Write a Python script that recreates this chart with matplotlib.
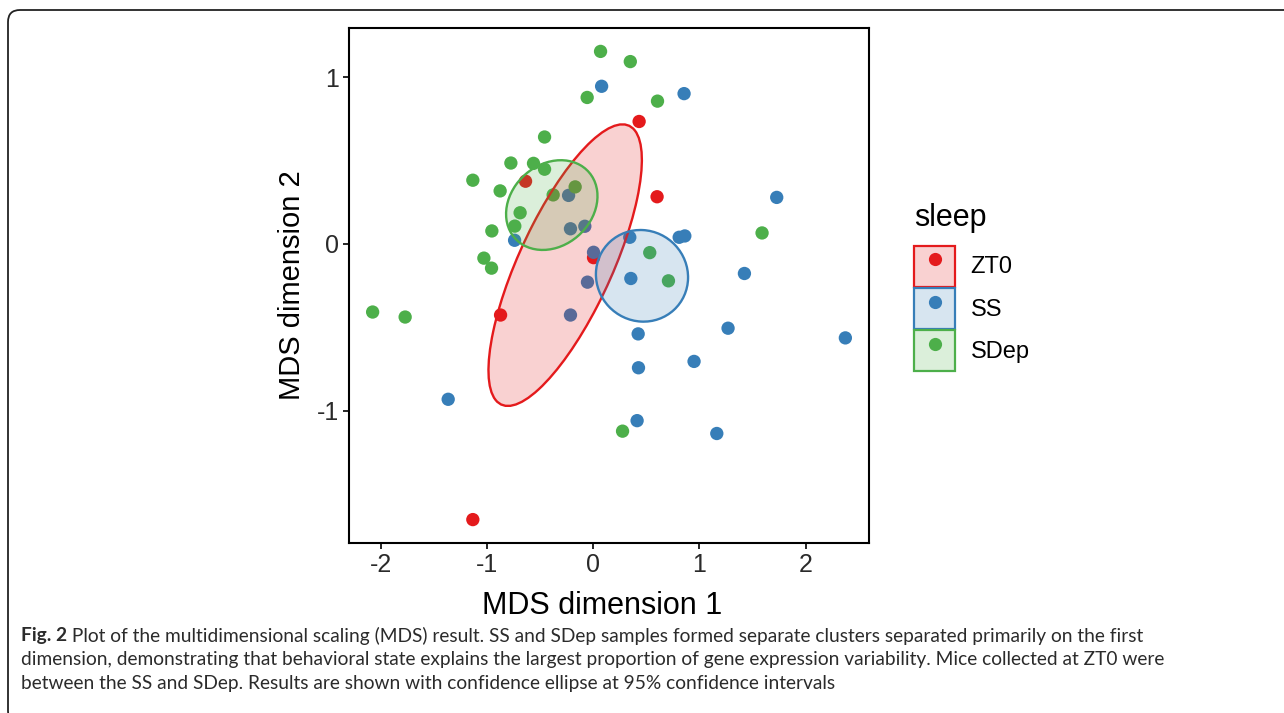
import numpy as np
import matplotlib
matplotlib.use("Agg")
import matplotlib.pyplot as plt
from matplotlib.patches import Ellipse, Patch, FancyBboxPatch
from matplotlib.lines import Line2D
from matplotlib.colors import to_rgba
from matplotlib.transforms import IdentityTransform

# ---------------- data ----------------
groups = ["ZT0", "SS", "SDep"]
colors = ["#E41A1C", "#377EB8", "#4DAF4A"]

zt0_x = [0.433, -0.636, 0.602, 0.004, -0.871, -1.132]
zt0_y = [0.734, 0.376, 0.283, -0.082, -0.426, -1.652]

ss_x = [0.080, 0.856, -0.231, 1.728, -0.213, -0.078, -0.739, 0.345, 0.810, 0.863,
        0.004, 1.424, 0.355, -0.053, -0.213, 0.424, 1.270, 2.374, 0.427, 0.950,
        -1.364, 0.414, 1.164]
ss_y = [0.945, 0.901, 0.291, 0.279, 0.091, 0.106, 0.022, 0.040, 0.040, 0.048,
        -0.050, -0.177, -0.207, -0.229, -0.426, -0.539, -0.505, -0.563, -0.742, -0.704,
        -0.931, -1.059, -1.136]

sdep_x = [0.070, 0.350, -0.056, 0.606, -0.457, -0.774, -0.561, -0.457, -1.132, -0.875,
          -0.169, -0.376, -0.687, -0.737, -0.953, 1.590, -1.028, -0.956, 0.533, 0.709,
          -2.075, -1.769, 0.277]
sdep_y = [1.154, 1.093, 0.878, 0.856, 0.641, 0.485, 0.483, 0.448, 0.382, 0.318,
          0.342, 0.294, 0.187, 0.107, 0.078, 0.066, -0.085, -0.145, -0.052, -0.221,
          -0.408, -0.438, -1.122]

# 95% confidence ellipses: centre and shape matrix
ell_center = [(-0.263, -0.127), (0.460, -0.191), (-0.389, 0.233)]
ell_shape = [[[0.521, 0.455], [0.455, 0.712]],
             [[0.188, -0.004], [-0.004, 0.0754]],
             [[0.185, 0.023], [0.023, 0.0723]]]

xticks = [-2, -1, 0, 1, 2]
yticks = [-1, 0, 1]
xlabel = "MDS dimension 1"
ylabel = "MDS dimension 2"
legend_title = "sleep"

caption_bold = "Fig. 2"
caption_lines = [
    " Plot of the multidimensional scaling (MDS) result. SS and SDep samples formed separate clusters separated primarily on the first",
    "dimension, demonstrating that behavioral state explains the largest proportion of gene expression variability. Mice collected at ZT0 were",
    "between the SS and SDep. Results are shown with confidence ellipse at 95% confidence intervals",
]

# ---------------- figure ----------------
W, H = 1284, 713
fig = plt.figure(figsize=(W / 100, H / 100), dpi=100)
fig.patch.set_facecolor("white")

font = "Liberation Sans"

# outer rounded frame
frame = FancyBboxPatch((8, -10), 1320, 713, boxstyle="round,pad=0,rounding_size=12",
                       transform=IdentityTransform(), facecolor="none", edgecolor="#222222",
                       linewidth=1.3, zorder=0)
fig.patches.append(frame)

ax_l, ax_r, ax_t, ax_b = 349, 869, 28, 543
ax = fig.add_axes([ax_l / W, 1 - ax_b / H, (ax_r - ax_l) / W, (ax_b - ax_t) / H])

xs = [zt0_x, ss_x, sdep_x]
ys = [zt0_y, ss_y, sdep_y]
for gx, gy, c in zip(xs, ys, colors):
    ax.scatter(gx, gy, s=92, color=c, edgecolors="none", zorder=2)

for (cx, cy), S, c in zip(ell_center, ell_shape, colors):
    S = np.array(S)
    vals, vecs = np.linalg.eigh(S)
    ang = np.degrees(np.arctan2(vecs[1, 1], vecs[0, 1]))
    e = Ellipse((cx, cy), 2 * np.sqrt(vals[1]), 2 * np.sqrt(vals[0]), angle=ang,
                facecolor=to_rgba(c, 0.2), edgecolor=c, linewidth=1.7, zorder=3)
    ax.add_patch(e)

allx = np.concatenate([np.array(v) for v in xs])
ally = np.concatenate([np.array(v) for v in ys])
dx = (allx.max() - allx.min()) * 0.05
dy = (ally.max() - ally.min()) * 0.05
ax.set_xlim(allx.min() - dx, allx.max() + dx)
ax.set_ylim(ally.min() - dy, ally.max() + dy)

ax.set_xticks(xticks)
ax.set_yticks(yticks)
ax.set_xticklabels([str(t) for t in xticks])
ax.set_yticklabels([str(t) for t in yticks])
for sp in ax.spines.values():
    sp.set_color("black")
    sp.set_linewidth(1.5)
ax.tick_params(axis="both", length=4, width=1.2, color="black", labelsize=18,
               labelcolor="#2a2a2a", pad=3)
for lab in ax.get_xticklabels() + ax.get_yticklabels():
    lab.set_fontfamily(font)
ax.set_xlabel(xlabel, fontsize=22, fontfamily=font, color="black", labelpad=5)
ax.xaxis.set_label_coords(0.487, -0.094)
ax.xaxis.label.set_va("top")
ax.set_ylabel(ylabel, fontsize=21, fontfamily=font, color="black", labelpad=8)

# legend
handles = []
for c in colors:
    p = Patch(facecolor=to_rgba(c, 0.2), edgecolor=c, linewidth=1.6)
    m = Line2D([], [], marker="o", color=c, linestyle="none", markersize=9.5, markeredgewidth=0)
    handles.append((p, m))
leg = fig.legend(handles, groups, loc="upper left", bbox_to_anchor=(914 / W, 1 - 203 / H),
                 frameon=False, prop={"family": font, "size": 17},
                 title=legend_title, title_fontproperties={"family": font, "size": 22},
                 handlelength=1.75, handleheight=2.3, labelspacing=0.05, handletextpad=0.65,
                 borderaxespad=0, borderpad=0)
leg._legend_box.align = "left"
leg._legend_box.sep = 9

# caption
cap_font = "Lato"
cap_size = 13.8
cap_color = "#2b2b2b"
x0 = 21 / W
line_y = [636, 659.5, 683]
fig.canvas.draw()
tb = fig.text(x0, 1 - line_y[0] / H, caption_bold, fontfamily=cap_font, fontweight="bold",
              fontsize=cap_size, color=cap_color, va="center", ha="left")
r = fig.canvas.get_renderer()
bb = tb.get_window_extent(renderer=r)
fig.text(bb.x1 / W, 1 - line_y[0] / H, caption_lines[0], fontfamily=cap_font,
         fontsize=cap_size, color=cap_color, va="center", ha="left")
for ln, yy in zip(caption_lines[1:], line_y[1:]):
    fig.text(x0, 1 - yy / H, ln, fontfamily=cap_font, fontsize=cap_size, color=cap_color,
             va="center", ha="left")

fig.savefig("out.png", dpi=100, facecolor="white")
